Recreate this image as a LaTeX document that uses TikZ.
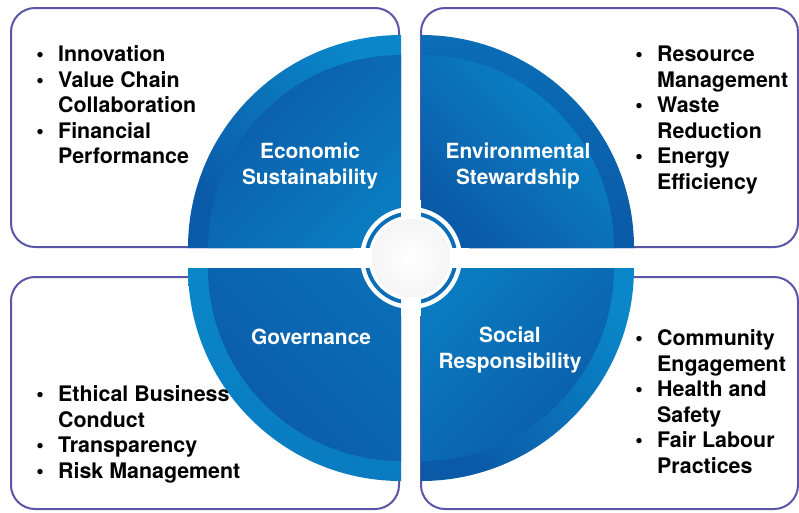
\documentclass[tikz,border=0pt]{standalone}
\usepackage{fontspec}
\setmainfont{TeX Gyre Heros}
\usepackage{array}
\definecolor{qlight}{HTML}{0A87C9}
\definecolor{qmid}{HTML}{0A6DB6}
\definecolor{qdark}{HTML}{0B5AA7}
\definecolor{qsoft}{HTML}{0A7BC0}
\definecolor{cardline}{HTML}{5A55A6}
\begin{document}
\begin{tikzpicture}[x=1pt,y=-1pt,
  card/.style={draw=cardline, line width=2pt, rounded corners=24pt, fill=white},
  qlabel/.style={text=white, inner sep=0pt, font=\fontsize{20.9}{26}\selectfont\bfseries, align=center},
  blist/.style={anchor=base west, inner sep=0pt, font=\fontsize{21.4}{25.5}\selectfont\bfseries}
]
\useasboundingbox (0,0) rectangle (799,512);
% cards
\draw[card] (11,8) rectangle (399,247);
\draw[card] (421,8) rectangle (798,247);
\draw[card] (11,277) rectangle (399,509);
\draw[card] (421,277) rectangle (798,509);
% top-left quadrant
\shade[top color=qlight,bottom color=qdark,shading angle=-45]
  (401,248) -- ++(-213,0) arc[start angle=180,end angle=270,radius=213] -- cycle;
\shade[top color=qdark,bottom color=qsoft,shading angle=45]
  (401,248) -- ++(-193,0) arc[start angle=180,end angle=270,radius=193] -- cycle;
% top-right quadrant
\shade[top color=qmid,bottom color=qdark,shading angle=0]
  (421,248) -- ++(0,-213) arc[start angle=270,end angle=360,radius=213] -- cycle;
\shade[top color=qlight,bottom color=qdark,shading angle=-45]
  (421,248) -- ++(0,-193) arc[start angle=270,end angle=360,radius=193] -- cycle;
% bottom-right quadrant
\shade[top color=qlight,bottom color=qdark,shading angle=-45]
  (421,268) -- ++(213,0) arc[start angle=0,end angle=90,radius=213] -- cycle;
\shade[top color=qsoft,bottom color=qdark,shading angle=45]
  (421,268) -- ++(193,0) arc[start angle=0,end angle=90,radius=193] -- cycle;
% bottom-left quadrant
\shade[top color=qlight,bottom color=qsoft,shading angle=0]
  (401,268) -- ++(0,213) arc[start angle=90,end angle=180,radius=213] -- cycle;
\shade[top color=qmid,bottom color=qdark,shading angle=-45]
  (401,268) -- ++(0,193) arc[start angle=90,end angle=180,radius=193] -- cycle;
% centre
\fill[white] (411,258) circle[radius=51];
\fill[qmid] (411,258) circle[radius=46.5];
\fill[white] (411,258) circle[radius=42.5];
\fill[white] (401,200) rectangle (421,316);
\fill[white] (353,248) rectangle (469,268);
\shade[inner color=white, outer color=black!4] (411,258) circle[radius=39];
% quadrant labels
\node[qlabel] (econ) at (310,166) {Economic\\Sustainability};
\node[qlabel] (env) at (518,166) {Environmental\\Stewardship};
\node[qlabel] (gov) at (311,337) {Governance};
\node[qlabel] (soc) at (510,350) {Social\\Responsibility};
% lists
\node[blist] (ltl) at (36.2,61.6) {\begin{tabular}[t]{@{}l@{\hspace{14.3pt}}l@{}}
\textbullet & Innovation\\
\textbullet & Value Chain\\
 & Collaboration\\
\textbullet & Financial\\
 & Performance
\end{tabular}};
\node[blist] (ltr) at (635.2,61.6) {\begin{tabular}[t]{@{}l@{\hspace{14.3pt}}l@{}}
\textbullet & Resource\\
 & Management\\
\textbullet & Waste\\
 & Reduction\\
\textbullet & Energy\\
 & Efficiency
\end{tabular}};
\node[blist] (lbl) at (36.2,401.6) {\begin{tabular}[t]{@{}l@{\hspace{14.3pt}}l@{}}
\textbullet & Ethical Business\\
 & Conduct\\
\textbullet & Transparency\\
\textbullet & Risk Management
\end{tabular}};
\node[blist] (lbr) at (635.2,345.6) {\begin{tabular}[t]{@{}l@{\hspace{14.3pt}}l@{}}
\textbullet & Community\\
 & Engagement\\
\textbullet & Health and\\
 & Safety\\
\textbullet & Fair Labour\\
 & Practices
\end{tabular}};
\end{tikzpicture}
\end{document}
